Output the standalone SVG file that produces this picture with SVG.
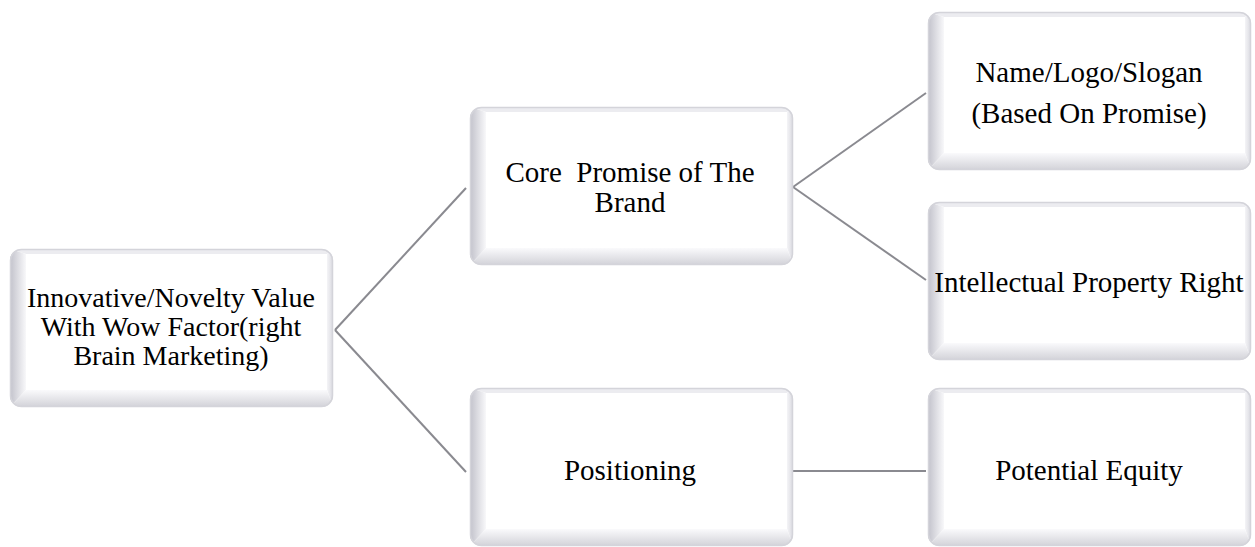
<svg xmlns="http://www.w3.org/2000/svg" xmlns:xlink="http://www.w3.org/1999/xlink" width="1255" height="547" viewBox="0 0 1255 547">
<style>
.lbl{font-family:"Liberation Serif","Times New Roman",serif;font-size:29px;fill:#000;text-anchor:middle;white-space:pre}
.tight{font-size:28px}
.conn{stroke:#8a8a90;stroke-width:2;fill:none}
</style>
<defs>
<linearGradient id="gLeft" x1="0" y1="0" x2="1" y2="0">
<stop offset="0" stop-color="#c2c2cb"/>
<stop offset="1" stop-color="#f8f8fa"/>
</linearGradient>
<linearGradient id="gBottom" x1="0" y1="0" x2="0" y2="1">
<stop offset="0" stop-color="#fafafc"/>
<stop offset="1" stop-color="#d2d2d8"/>
</linearGradient>
<linearGradient id="gRight" x1="0" y1="0" x2="1" y2="0">
<stop offset="0" stop-color="#f4f4f7"/>
<stop offset="1" stop-color="#dadae0"/>
</linearGradient>
<clipPath id="boxClip"><rect x="0" y="0" width="323" height="158" rx="11"/></clipPath>
<symbol id="box" width="323" height="158" viewBox="0 0 323 158" overflow="visible">
<g clip-path="url(#boxClip)">
<rect x="0" y="0" width="323" height="158" fill="#ffffff"/>
<polygon points="0,0 323,0 317,5 16,5" fill="#ececf0"/>
<polygon points="323,0 323,158 317,141 317,5" fill="url(#gRight)"/>
<polygon points="0,0 16,5 16,141 0,158" fill="url(#gLeft)"/>
<polygon points="0,158 16,141 317,141 323,158" fill="url(#gBottom)"/>
<rect x="16" y="5" width="301" height="136" fill="#ffffff"/>
</g>
<rect x="0.5" y="0.5" width="322" height="157" rx="11" fill="none" stroke="#d4d4da" stroke-width="1.5"/>
</symbol>
</defs>

<g id="connectors">
<line class="conn" x1="335" y1="330" x2="466" y2="188"/>
<line class="conn" x1="335" y1="330" x2="466" y2="472"/>
<line class="conn" x1="793" y1="187" x2="926" y2="93"/>
<line class="conn" x1="793" y1="187" x2="926" y2="280"/>
<line class="conn" x1="792" y1="471" x2="926" y2="471"/>
</g>

<g id="node-root">
<use href="#box" xlink:href="#box" x="10" y="249" width="323" height="158"/>
<text class="lbl tight" x="171" y="307">Innovative/Novelty Value</text>
<text class="lbl tight" x="171" y="336">With Wow Factor(right</text>
<text class="lbl tight" x="171" y="365">Brain Marketing)</text>
</g>

<g id="node-core">
<use href="#box" xlink:href="#box" x="470" y="107" width="323" height="158"/>
<text class="lbl" x="630" y="182">Core  Promise of The</text>
<text class="lbl" x="630" y="212">Brand</text>
</g>

<g id="node-name">
<use href="#box" xlink:href="#box" x="928" y="12" width="323" height="158"/>
<text class="lbl" x="1089" y="82">Name/Logo/Slogan</text>
<text class="lbl" x="1089" y="123">(Based On Promise)</text>
</g>

<g id="node-ipr">
<use href="#box" xlink:href="#box" x="928" y="202" width="323" height="158"/>
<text class="lbl" x="1089" y="292">Intellectual Property Right</text>
</g>

<g id="node-positioning">
<use href="#box" xlink:href="#box" x="470" y="388" width="323" height="158"/>
<text class="lbl" x="630" y="480">Positioning</text>
</g>

<g id="node-equity">
<use href="#box" xlink:href="#box" x="928" y="388" width="323" height="158"/>
<text class="lbl" x="1089" y="480">Potential Equity</text>
</g>
</svg>
